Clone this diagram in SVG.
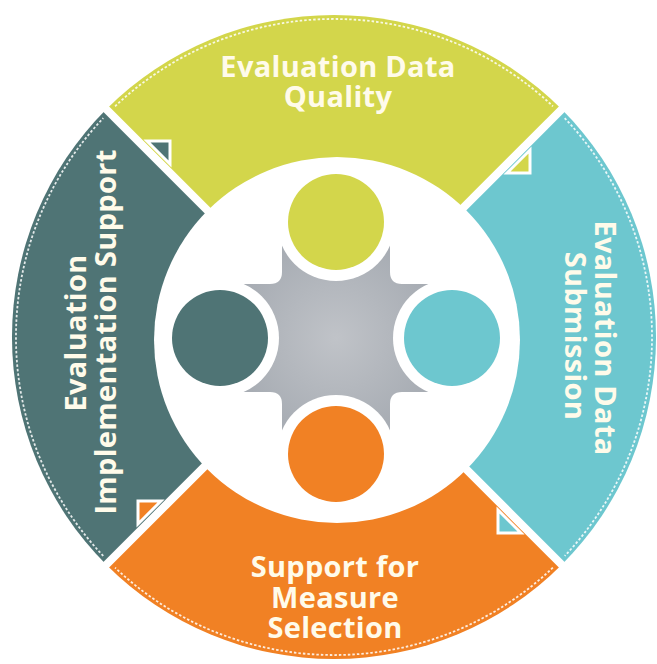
<svg xmlns="http://www.w3.org/2000/svg" width="657" height="664" viewBox="0 0 657 664">
  <defs>
    <radialGradient id="starGrad" cx="50%" cy="50%" r="55%">
      <stop offset="0%" stop-color="#c0c3c8"/>
      <stop offset="100%" stop-color="#a7acb3"/>
    </radialGradient>
    <path id="wedge" d="M334,337 L106.3,109.3 A322,322 0 0 1 561.7,109.3 Z"/>
    <path id="dash" d="M115.1,106.3 A318,318 0 0 1 552.9,106.3" fill="none"/>
    <polygon id="tab" points="147,141 170,141 170,164"/>
  </defs>
  <style>
    .lbl { font-family: "Open Sans", "Liberation Sans", sans-serif; font-weight: 700; font-size: 29px; letter-spacing: 0.3px; fill: #fffbea; text-anchor: middle; }
    .dash { stroke: #ffffff; stroke-width: 1.8; stroke-dasharray: 2.5 2; opacity: 0.85; fill: none; }
    .sep { stroke: #ffffff; stroke-width: 8; }
    .tabs { stroke: #ffffff; stroke-width: 3; stroke-linejoin: miter; }
  </style>
  <rect width="657" height="664" fill="#ffffff"/>

  <g id="seg-quality">
    <use href="#wedge" fill="#d3d64b"/>
    <use href="#dash" class="dash"/>
  </g>
  <g id="seg-submission">
    <use href="#wedge" fill="#6dc7cf" transform="rotate(90 334 337)"/>
    <use href="#dash" class="dash" transform="rotate(90 334 337)"/>
  </g>
  <g id="seg-selection">
    <use href="#wedge" fill="#f18124" transform="rotate(180 334 337)"/>
    <use href="#dash" class="dash" transform="rotate(180 334 337)"/>
  </g>
  <g id="seg-implementation">
    <use href="#wedge" fill="#4f7475" transform="rotate(270 334 337)"/>
    <use href="#dash" class="dash" transform="rotate(270 334 337)"/>
  </g>

  <g id="connectors">
    <line class="sep" x1="90" y1="93" x2="578" y2="581"/>
    <line class="sep" x1="578" y1="93" x2="90" y2="581"/>
    <use href="#tab" class="tabs" fill="#4f7475"/>
    <use href="#tab" class="tabs" fill="#d3d64b" transform="rotate(90 334 337)"/>
    <use href="#tab" class="tabs" fill="#6dc7cf" transform="rotate(180 334 337)"/>
    <use href="#tab" class="tabs" fill="#f18124" transform="rotate(270 334 337)"/>
  </g>

  <g id="hub">
    <circle cx="337" cy="340" r="183" fill="#ffffff"/>
    <path d="M282,243 L390,243 L390,272 Q390,284 402,284 L431,284 L431,392 L402,392 Q390,392 390,404 L390,433 L282,433 L282,404 Q282,392 270,392 L241,392 L241,284 L270,284 Q282,284 282,272 Z" fill="url(#starGrad)"/>
    <circle cx="336" cy="222" r="59" fill="#ffffff"/>
    <circle cx="336" cy="454" r="59" fill="#ffffff"/>
    <circle cx="220" cy="338" r="59" fill="#ffffff"/>
    <circle cx="452" cy="338" r="59" fill="#ffffff"/>
    <circle cx="336" cy="222" r="48" fill="#d3d64b"/>
    <circle cx="452" cy="338" r="48" fill="#6dc7cf"/>
    <circle cx="336" cy="454" r="48" fill="#f18124"/>
    <circle cx="220" cy="338" r="48" fill="#4f7475"/>
  </g>

  <g id="label-quality">
    <text class="lbl" x="338" y="77">Evaluation Data</text>
    <text class="lbl" x="338" y="107">Quality</text>
  </g>
  <g id="label-submission">
    <text class="lbl" transform="translate(595,338) rotate(90)">Evaluation Data</text>
    <text class="lbl" transform="translate(565,336) rotate(90)">Submission</text>
  </g>
  <g id="label-selection">
    <text class="lbl" x="335" y="577">Support for</text>
    <text class="lbl" x="335" y="608">Measure</text>
    <text class="lbl" x="335" y="638">Selection</text>
  </g>
  <g id="label-implementation">
    <text class="lbl" transform="translate(86,333) rotate(-90)">Evaluation</text>
    <text class="lbl" transform="translate(116,332) rotate(-90)">Implementation Support</text>
  </g>
</svg>
